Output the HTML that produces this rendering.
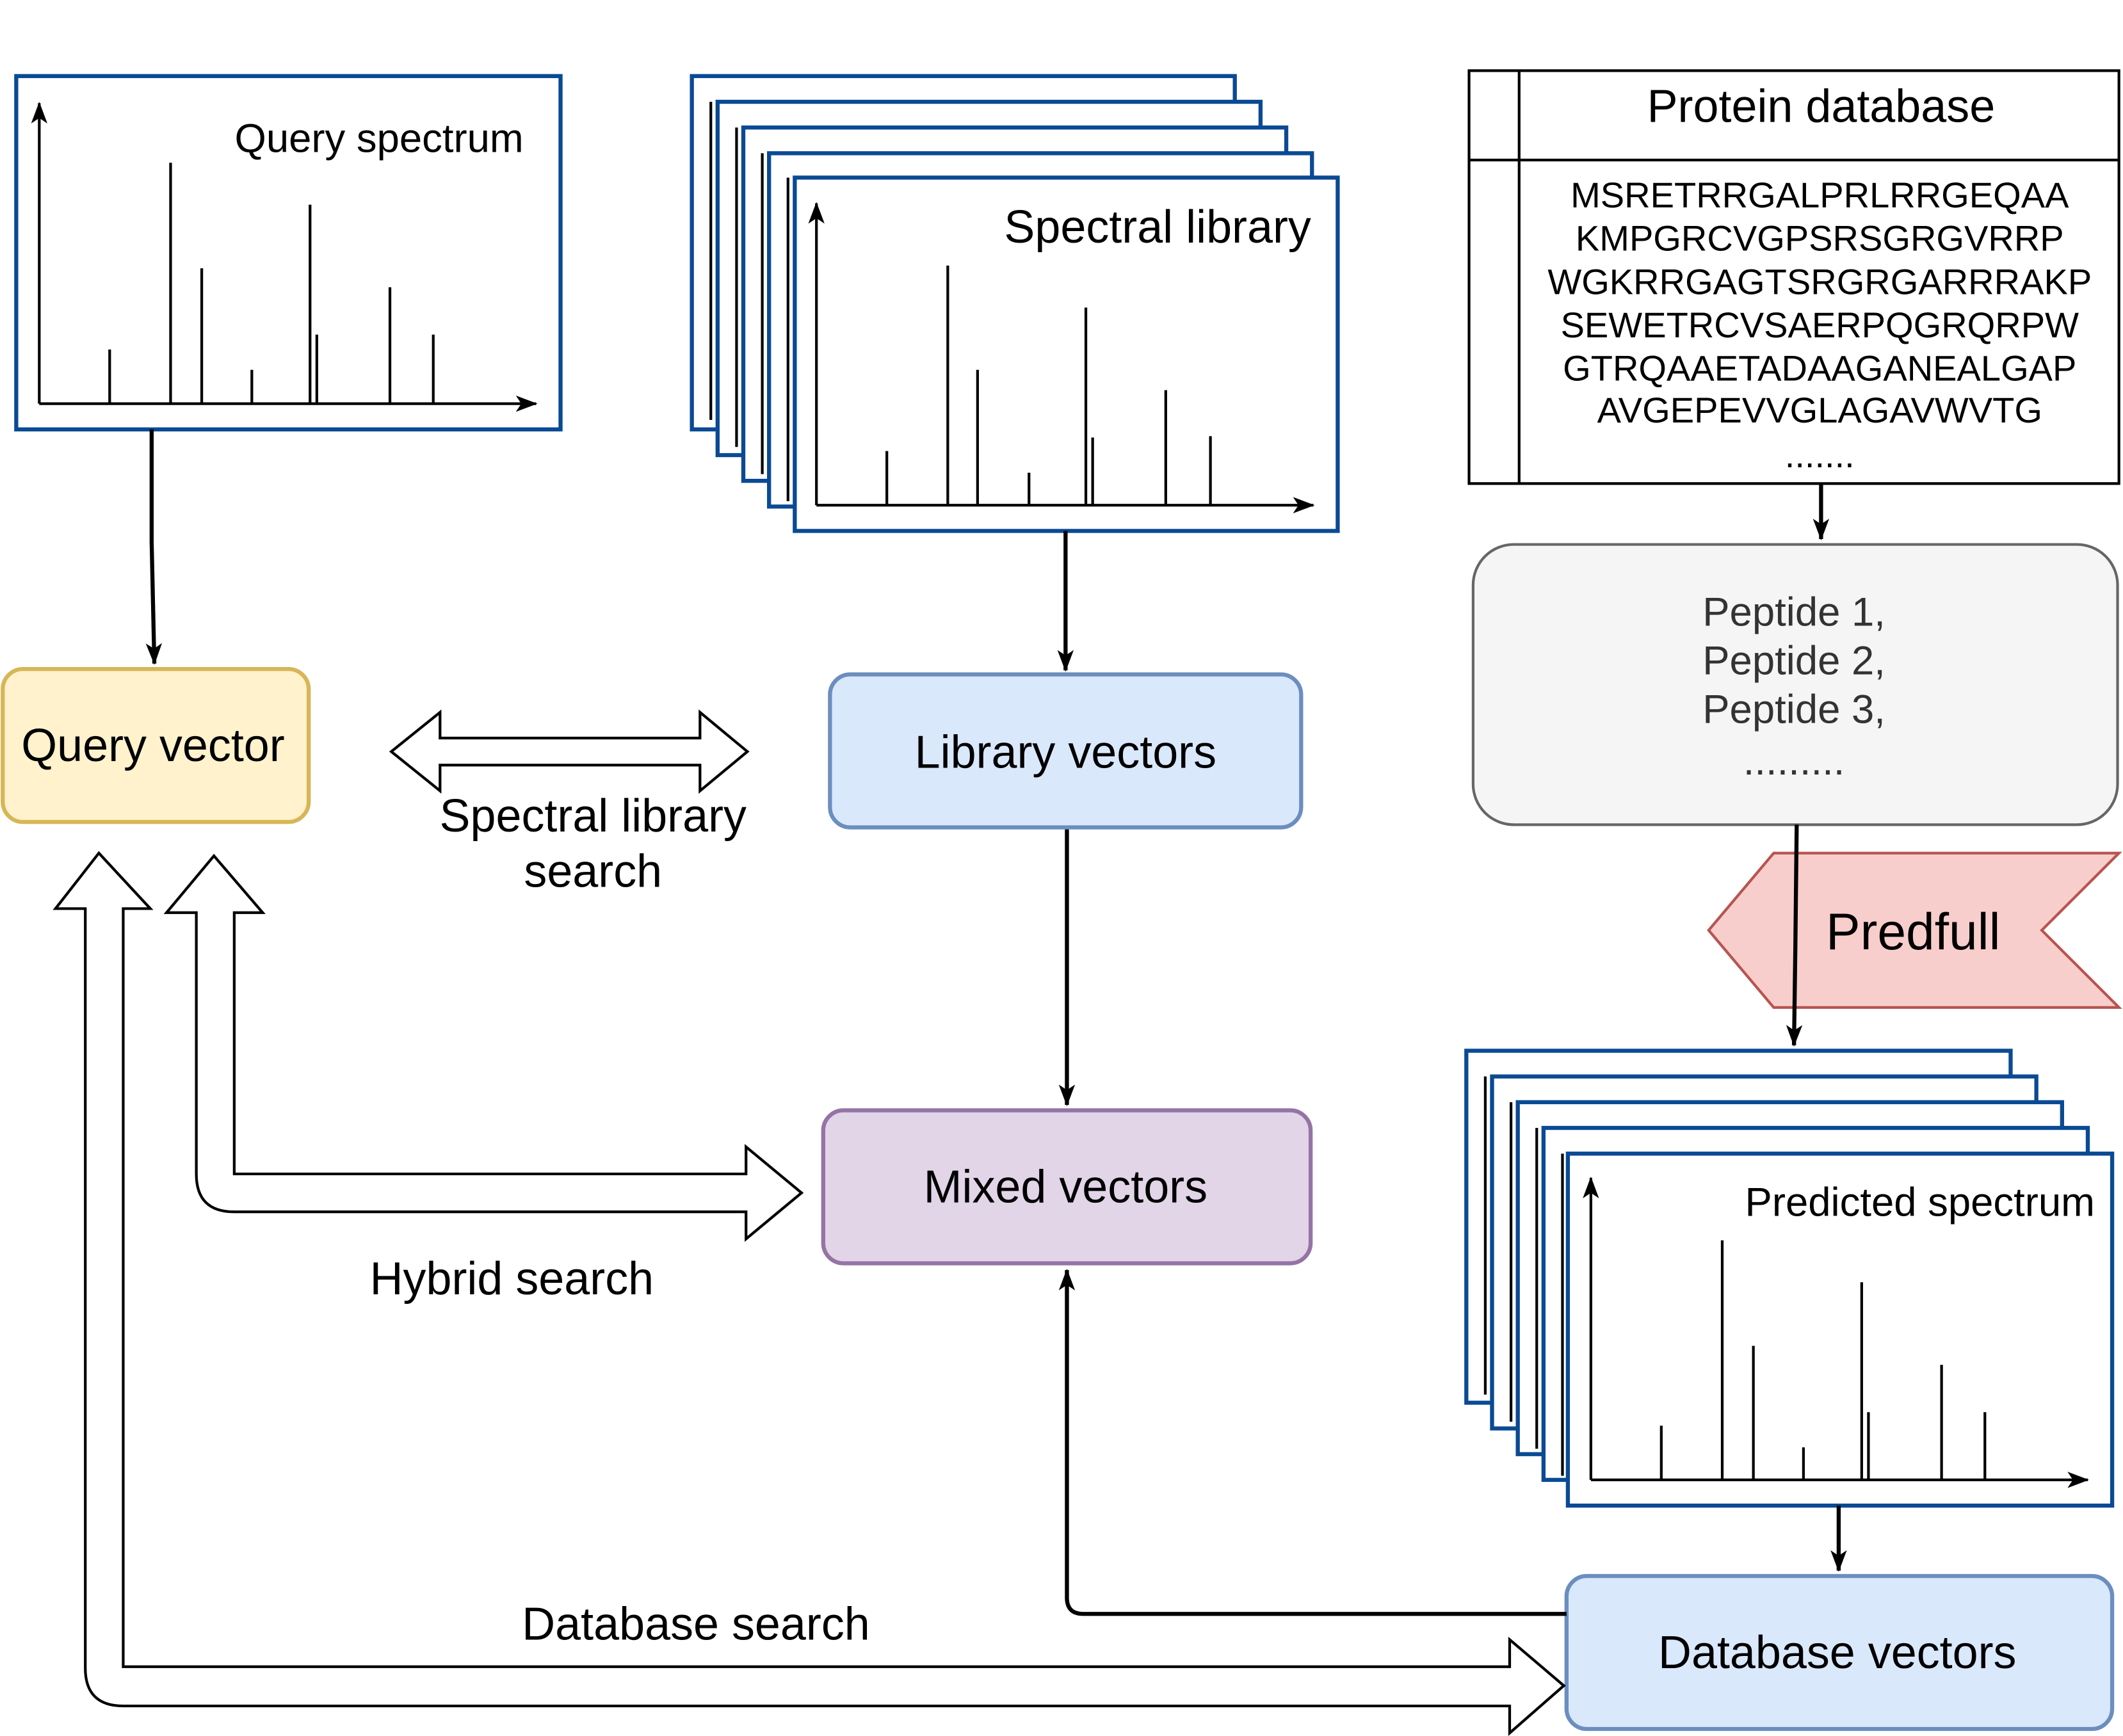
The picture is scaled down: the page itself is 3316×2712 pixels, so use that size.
<!DOCTYPE html>
<html><head><meta charset="utf-8"><style>html,body{margin:0;padding:0;background:#fff}svg{display:block}</style></head>
<body>
<svg width="3316" height="2712" viewBox="0 0 1568 1282" xmlns="http://www.w3.org/2000/svg" font-family="Liberation Sans, sans-serif">
<defs>
<marker id="ah" markerWidth="12" markerHeight="14" refX="6" refY="12" orient="auto-start-reverse" markerUnits="userSpaceOnUse" viewBox="0 0 12 14"><path d="M6,0 L12,14 L6,11 L0,14 Z" fill="#000" transform="rotate(90 6 7)"/></marker>
<marker id="sh" markerWidth="16" markerHeight="12" refX="15" refY="6" orient="auto" markerUnits="userSpaceOnUse" viewBox="0 0 16 12"><path d="M0,0 L16,6 L0,12 L4,6 Z" fill="#000"/></marker>
</defs>
<rect width="1568" height="1282" fill="#fff"/>

<!-- Query spectrum -->
<rect x="12" y="56" width="402" height="261" fill="#fff" stroke="#0a4a94" stroke-width="3"/>
<g stroke="#000" stroke-width="2" fill="none">
<line x1="29" y1="298" x2="29" y2="76" marker-end="url(#sh)"/>
<line x1="29" y1="298" x2="396" y2="298" marker-end="url(#sh)"/>
<path d="M81,298V258M126,298V120M149,298V198M186,298V273M229,298V151M234,298V247M288,298V212M320,298V247"/>
</g>
<text x="280" y="112" font-size="30" text-anchor="middle">Query spectrum</text>

<!-- Spectral library stack -->
<g fill="#fff" stroke="#0a4a94" stroke-width="3">
<rect x="511" y="56" width="401" height="261"/>
<line x1="525" y1="75" x2="525" y2="310" stroke="#000" stroke-width="2"/>
<rect x="530" y="75" width="401" height="261"/>
<line x1="544" y1="94" x2="544" y2="330" stroke="#000" stroke-width="2"/>
<rect x="549" y="94" width="401" height="261"/>
<line x1="563" y1="113" x2="563" y2="350" stroke="#000" stroke-width="2"/>
<rect x="568" y="113" width="401" height="261"/>
<line x1="582" y1="131" x2="582" y2="370" stroke="#000" stroke-width="2"/>
<rect x="587" y="131" width="401" height="261"/>
</g>
<g stroke="#000" stroke-width="2" fill="none">
<line x1="603" y1="373" x2="603" y2="150" marker-end="url(#sh)"/>
<line x1="603" y1="373" x2="970" y2="373" marker-end="url(#sh)"/>
<path d="M655,373V333M700,373V196M722,373V273M760,373V349M802,373V227M807,373V323M861,373V288M894,373V322"/>
</g>
<text x="855" y="179" font-size="34" text-anchor="middle">Spectral library</text>

<!-- Protein database -->
<rect x="1085" y="52" width="480" height="305" fill="#fff" stroke="#000" stroke-width="2"/>
<line x1="1122" y1="52" x2="1122" y2="357" stroke="#000" stroke-width="2"/>
<line x1="1085" y1="118" x2="1565" y2="118" stroke="#000" stroke-width="2"/>
<text x="1345" y="90" font-size="34" text-anchor="middle">Protein database</text>
<g font-size="26.5" text-anchor="middle">
<text x="1344" y="153">MSRETRRGALPRLRRGEQAA</text>
<text x="1344" y="185">KMPGRCVGPSRSGRGVRRP</text>
<text x="1344" y="217">WGKRRGAGTSRGRGARRRAKP</text>
<text x="1344" y="249">SEWETRCVSAERPQGRQRPW</text>
<text x="1344" y="281">GTRQAAETADAAGANEALGAP</text>
<text x="1344" y="312">AVGEPEVVGLAGAVWVTG</text>
<text x="1344" y="345">.......</text>
</g>

<!-- arrows top -->
<g stroke="#000" stroke-width="3" fill="none">
<line x1="1345" y1="357" x2="1345" y2="398" marker-end="url(#sh)"/>
<path d="M112,317 L112,400 L114,490" marker-end="url(#sh)"/>
<line x1="787" y1="392" x2="787" y2="495" marker-end="url(#sh)"/>
<line x1="788" y1="611" x2="788" y2="816" marker-end="url(#sh)"/>
</g>

<!-- Peptides -->
<rect x="1088" y="402" width="476" height="207" rx="30" fill="#f5f5f5" stroke="#666" stroke-width="2"/>
<g font-size="30" fill="#333" text-anchor="middle">
<text x="1325" y="462">Peptide 1,</text>
<text x="1325" y="498">Peptide 2,</text>
<text x="1325" y="534">Peptide 3,</text>
<text x="1325" y="572">.........</text>
</g>

<!-- Predfull -->
<polygon points="1262,687 1310,630 1565,630 1508,687 1565,744 1310,744" fill="#f8cecc" stroke="#b85450" stroke-width="2"/>
<text x="1413" y="701" font-size="38" text-anchor="middle">Predfull</text>
<path d="M1327,609 L1326,700 L1325,772" stroke="#000" stroke-width="3" fill="none" marker-end="url(#sh)"/>

<!-- Predicted stack -->
<g fill="#fff" stroke="#0a4a94" stroke-width="3">
<rect x="1083" y="776" width="402" height="260"/>
<line x1="1097" y1="795" x2="1097" y2="1030" stroke="#000" stroke-width="2"/>
<rect x="1102" y="795" width="402" height="260"/>
<line x1="1116" y1="814" x2="1116" y2="1050" stroke="#000" stroke-width="2"/>
<rect x="1121" y="814" width="402" height="260"/>
<line x1="1135" y1="833" x2="1135" y2="1070" stroke="#000" stroke-width="2"/>
<rect x="1140" y="833" width="402" height="260"/>
<line x1="1154" y1="852" x2="1154" y2="1090" stroke="#000" stroke-width="2"/>
<rect x="1158" y="852" width="402" height="260"/>
</g>
<g stroke="#000" stroke-width="2" fill="none">
<line x1="1175" y1="1093" x2="1175" y2="870" marker-end="url(#sh)"/>
<line x1="1175" y1="1093" x2="1542" y2="1093" marker-end="url(#sh)"/>
<path d="M1227,1093V1053M1272,1093V916M1295,1093V994M1332,1093V1069M1375,1093V947M1380,1093V1043M1434,1093V1008M1466,1093V1043"/>
</g>
<text x="1418" y="898" font-size="30" text-anchor="middle">Predicted spectrum</text>
<line x1="1358" y1="1112" x2="1358" y2="1160" stroke="#000" stroke-width="3" marker-end="url(#sh)"/>

<!-- Database vectors -->
<rect x="1157" y="1164" width="403" height="113" rx="15" fill="#dae8fc" stroke="#6c8ebf" stroke-width="3"/>
<text x="1357" y="1232" font-size="34" text-anchor="middle">Database vectors</text>
<path d="M1157,1192 L800,1192 Q788,1192 788,1180 L788,938" stroke="#000" stroke-width="3" fill="none" marker-end="url(#sh)"/>

<!-- Query vector -->
<rect x="2" y="494" width="226" height="113" rx="15" fill="#fff2cc" stroke="#d6b656" stroke-width="3"/>
<text x="113" y="562" font-size="34" text-anchor="middle">Query vector</text>

<!-- Library vectors -->
<rect x="613" y="498" width="348" height="113" rx="15" fill="#dae8fc" stroke="#6c8ebf" stroke-width="3"/>
<text x="787" y="567" font-size="34" text-anchor="middle">Library vectors</text>

<!-- Mixed vectors -->
<rect x="608" y="820" width="360" height="113" rx="15" fill="#e1d5e7" stroke="#9673a6" stroke-width="3"/>
<text x="787" y="888" font-size="34" text-anchor="middle">Mixed vectors</text>

<!-- Spectral library search double arrow -->
<polygon points="289,555 325,526 325,545 517,545 517,526 552,555 517,584 517,565 325,565 325,584" fill="#fff" stroke="#000" stroke-width="2"/>
<text x="438" y="614" font-size="34" text-anchor="middle">Spectral library</text>
<text x="438" y="655" font-size="34" text-anchor="middle">search</text>

<!-- Hybrid arrow -->
<path d="M158,632 L194,674 L173,674 L173,867 L551,867 L551,847 L592,881 L551,915 L551,895 L173,895 Q145,895 145,867 L145,674 L123,674 Z" fill="#fff" stroke="#000" stroke-width="2"/>
<text x="378" y="956" font-size="34" text-anchor="middle">Hybrid search</text>

<!-- Database arrow -->
<path d="M73,630 L111,671 L91,671 L91,1231 L1115,1231 L1115,1211 L1155,1245 L1115,1280 L1115,1260 L91,1260 Q63,1260 63,1232 L63,671 L41,671 Z" fill="#fff" stroke="#000" stroke-width="2"/>
<text x="514" y="1211" font-size="34" text-anchor="middle">Database search</text>
</svg>
</body></html>
